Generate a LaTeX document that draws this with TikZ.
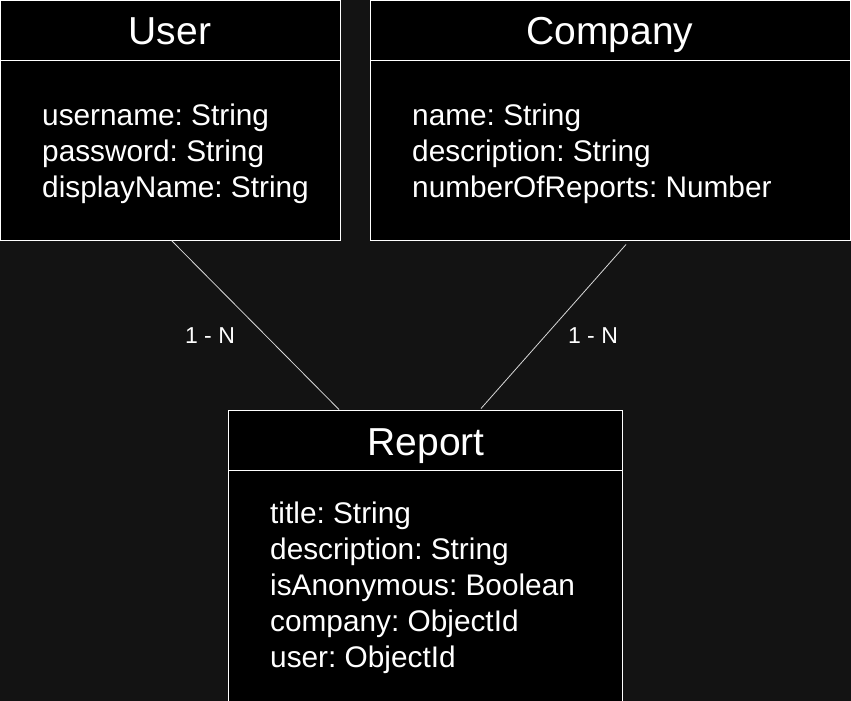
\documentclass[tikz,border=0pt]{standalone}
\usepackage{fontspec}
\setmainfont{Liberation Sans}
\usetikzlibrary{calc}
\definecolor{bg}{HTML}{131313}
\definecolor{relcol}{HTML}{D8D8D8}
\frenchspacing
\begin{document}
\begin{tikzpicture}[x=1pt,y=-1pt,
  box/.style={draw=white, fill=black, line width=1pt, rectangle, inner sep=0pt, outer sep=0pt, anchor=north west},
  divider/.style={draw=white, line width=1pt},
  title/.style={text=white, font=\fontsize{39}{39}\selectfont, anchor=base, inner sep=0pt},
  attr/.style={text=white, font=\fontsize{29.8}{36}\selectfont\frenchspacing, anchor=base west, inner sep=0pt},
  rel/.style={draw=relcol, line width=0.8pt},
  card/.style={text=white, font=\fontsize{23}{23}\selectfont, inner sep=0pt}]
\useasboundingbox (0,0) rectangle (851,701);
\fill[bg] (0,0) rectangle (851,701);

% boxes
\node[box, minimum width=340pt, minimum height=240pt] (user) at (0.5,0.5) {};
\node[box, minimum width=480pt, minimum height=240pt] (company) at (370.5,0.5) {};
\node[box, minimum width=394pt, minimum height=295pt] (report) at (228.5,410.5) {};

% dividers
\draw[divider] ($(user.north west)+(0,60)$) -- ($(user.north east)+(0,60)$);
\draw[divider] ($(company.north west)+(0,60)$) -- ($(company.north east)+(0,60)$);
\draw[divider] ($(report.north west)+(0,60)$) -- ($(report.north east)+(0,60)$);

% titles
\node[title] (usertitle) at (170,45) {User};
\node[title] (companytitle) at (610,45) {Company};
\node[title] (reporttitle) at (426,455) {Report};

% attributes
\node[attr] (ua1) at (42,125) {username: String};
\node[attr] (ua2) at (42,161) {password: String};
\node[attr] (ua3) at (42,197) {displayName: String};

\node[attr] (ca1) at (412,125) {name: String};
\node[attr] (ca2) at (412,161) {description: String};
\node[attr] (ca3) at (412,197) {numberOfReports: Number};

\node[attr] (ra1) at (270,523) {title: String};
\node[attr] (ra2) at (270,559) {description: String};
\node[attr] (ra3) at (270,595) {isAnonymous: Boolean};
\node[attr] (ra4) at (270,631) {company: ObjectId};
\node[attr] (ra5) at (270,667) {user: ObjectId};

% relations
\draw[rel] ($(user.south west)+(171,0)$) -- ($(report.north west)+(110.5,-1)$);
\draw[rel] ($(company.south west)+(255.5,4)$) -- ($(report.north west)+(252.5,-2)$);

% cardinalities
\node[card] (lcard) at (210,336) {1 - N};
\node[card] (rcard) at (593,336) {1 - N};
\end{tikzpicture}
\end{document}
